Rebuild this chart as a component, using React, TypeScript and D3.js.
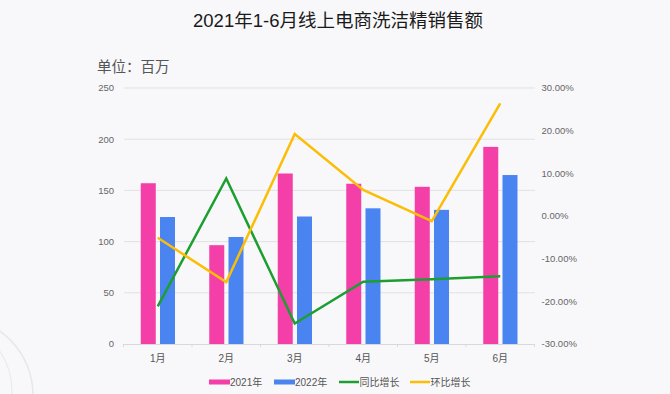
import React from 'react';
import * as d3 from 'd3';

const months = ['1月', '2月', '3月', '4月', '5月', '6月'];
const sales2021 = [157, 96.5, 166.5, 156.5, 153.5, 192.5];
const sales2022 = [124, 104.5, 124.5, 132.5, 131, 165];
const yoy = [-21.2, 8.8, -25.2, -15.4, -14.8, -14.1];
const mom = [-5.1, -15.5, 19.2, 6.1, -1.2, 26.4];
const leftTicks = [0, 50, 100, 150, 200, 250];
const rightTicks = [-30, -20, -10, 0, 10, 20, 30];

const W = 670;
const H = 394;
const font = '"Liberation Sans", Arial, "Noto Sans CJK SC", sans-serif';

const PINK = '#f43fa8';
const BLUE = '#4a84f1';
const GREEN = '#1d9e30';
const YELLOW = '#fcbd06';

export default function App() {
  const x = d3.scaleBand<string>().domain(months).range([123.5, 534.5]).padding(0);
  const yL = d3.scaleLinear().domain([0, 250]).range([344, 88]);
  const yR = d3.scaleLinear().domain([-30, 30]).range([344, 88]);
  // two bars per month, 15px wide with ~4px gap, centred on the band
  const sub = d3.scaleBand<string>().domain(['2021', '2022']).range([-17, 17.25]).paddingInner(0.22);
  const cx = (m: string) => (x(m) as number) + x.bandwidth() / 2;

  const line = d3.line<number>()
    .x((_, i) => cx(months[i]))
    .y((d) => yR(d));

  const legend = [
    { label: '2021年', color: PINK, kind: 'bar', x: 209 },
    { label: '2022年', color: BLUE, kind: 'bar', x: 274 },
    { label: '同比增长', color: GREEN, kind: 'line', x: 339 },
    { label: '环比增长', color: YELLOW, kind: 'line', x: 410 },
  ];

  return (
    <div style={{ position: 'absolute', left: 0, top: 0 }}>
      <svg width={W} height={H} style={{ display: 'block', fontFamily: font }}>
        <rect width={W} height={H} fill="#f8f8fa" />
        {/* faint watermark arcs */}
        <circle cx={-45} cy={395} r={78} fill="none" stroke="#e4e8ee" strokeWidth={1.5} />
        <circle cx={-62} cy={392} r={74} fill="none" stroke="#e8ebf0" strokeWidth={1.2} />

        <text x={338} y={27} textAnchor="middle" fontSize={18.5} fill="#1a1a1a">
          2021年1-6月线上电商洗洁精销售额
        </text>
        <text x={97} y={72} fontSize={14.5} fill="#555">单位：百万</text>

        {/* grid */}
        {leftTicks.filter((t) => t > 0).map((t) => (
          <line key={t} x1={124} x2={535} y1={yL(t)} y2={yL(t)} stroke="#e1e1e5" strokeWidth={1} />
        ))}
        {leftTicks.map((t) => (
          <text key={t} x={114} y={yL(t)} dy="0.35em" textAnchor="end" fontSize={9.5} fill="#666">
            {t}
          </text>
        ))}
        {rightTicks.map((t) => (
          <text key={t} x={541.5} y={yR(t)} dy="0.35em" fontSize={9.5} fill="#666">
            {t.toFixed(2) + '%'}
          </text>
        ))}

        {/* x axis */}
        <line x1={123.5} x2={534.5} y1={344.5} y2={344.5} stroke="#d8d8dc" />
        {d3.range(months.length + 1).map((i) => {
          const xx = 123.5 + i * x.bandwidth();
          return <line key={i} x1={xx} x2={xx} y1={344} y2={347} stroke="#d8d8dc" />;
        })}
        {months.map((m) => (
          <text key={m} x={cx(m)} y={362} textAnchor="middle" fontSize={10} fill="#555">
            {m}
          </text>
        ))}

        {/* bars */}
        {months.map((m, i) => (
          <g key={m}>
            <rect
              x={cx(m) + (sub('2021') as number)}
              y={yL(sales2021[i])}
              width={sub.bandwidth()}
              height={yL(0) - yL(sales2021[i])}
              fill={PINK}
            />
            <rect
              x={cx(m) + (sub('2022') as number)}
              y={yL(sales2022[i])}
              width={sub.bandwidth()}
              height={yL(0) - yL(sales2022[i])}
              fill={BLUE}
            />
          </g>
        ))}

        {/* lines */}
        <path d={line(yoy) as string} fill="none" stroke={GREEN} strokeWidth={2.5} strokeLinejoin="miter" />
        <path d={line(mom) as string} fill="none" stroke={YELLOW} strokeWidth={2.5} strokeLinejoin="miter" />

        {/* legend */}
        {legend.map((l) => (
          <g key={l.label} transform={`translate(${l.x},382)`}>
            {l.kind === 'bar' ? (
              <rect x={0} y={-2.5} width={21} height={5} fill={l.color} />
            ) : (
              <line x1={0} x2={20} y1={0} y2={0} stroke={l.color} strokeWidth={2.5} />
            )}
            <text x={l.kind === 'bar' ? 21 : 20.5} y={0} dy="0.35em" fontSize={10} fill="#555">
              {l.label}
            </text>
          </g>
        ))}
      </svg>
    </div>
  );
}
